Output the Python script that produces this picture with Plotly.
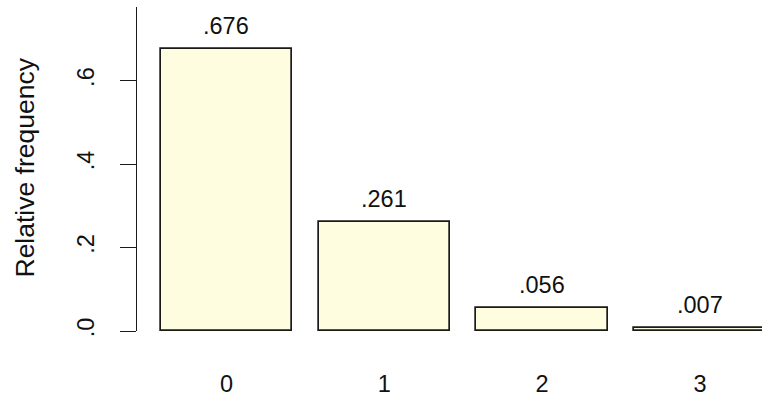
import plotly.graph_objects as go

# Relative frequency of counts 0..3
categories = [0, 1, 2, 3]
rel_freq = [0.676, 0.261, 0.056, 0.007]
y_tickvals = [0.0, 0.2, 0.4, 0.6]
y_ticktext = [".0", ".2", ".4", ".6"]
x_ticktext = ["0", "1", "2", "3"]

FONT = "Liberation Sans, Arial, sans-serif"
INK = "#111111"

def dot_label(v):
    s = f"{v:.3f}"
    return s[1:] if s.startswith("0") else s

fig = go.Figure()
fig.add_trace(go.Bar(
    x=categories,
    y=rel_freq,
    width=1 / 1.2,
    marker=dict(color="#FFFDE0", line=dict(color="#1a1a1a", width=1.7)),
    hoverinfo="skip",
))

for c, v in zip(categories, rel_freq):
    fig.add_annotation(
        x=c, y=v, xref="x", yref="y",
        text=dot_label(v), showarrow=False,
        yanchor="middle", yshift=23,
        font=dict(family=FONT, size=23.5, color=INK),
    )

fig.add_annotation(
    x=-0.1792, y=0.5046, xref="paper", yref="paper",
    text="Relative frequency", showarrow=False, textangle=-90,
    xanchor="center", yanchor="middle",
    font=dict(family=FONT, size=26.5, color=INK),
)

fig.update_layout(
    width=762, height=398,
    margin=dict(l=137, r=0, t=7, b=67, pad=0),
    paper_bgcolor="white", plot_bgcolor="white",
    showlegend=False,
    bargap=0,
)
fig.update_xaxes(
    range=[-0.567, 3.393],
    tickvals=categories, ticktext=x_ticktext,
    showline=False, showgrid=False, zeroline=False,
    ticks="", ticklabelstandoff=36,
    tickfont=dict(family=FONT, size=23.5, color=INK),
)
fig.update_yaxes(
    range=[0, 0.7764],
    tickvals=y_tickvals, ticktext=y_ticktext,
    showline=True, linecolor="#1a1a1a", linewidth=1.4,
    showgrid=False, zeroline=False,
    ticks="outside", ticklen=16, tickwidth=1.4, tickcolor="#1a1a1a",
    tickangle=-90, ticklabelstandoff=16,
    tickfont=dict(family=FONT, size=23.5, color=INK),
)

fig.write_html("out.html")
